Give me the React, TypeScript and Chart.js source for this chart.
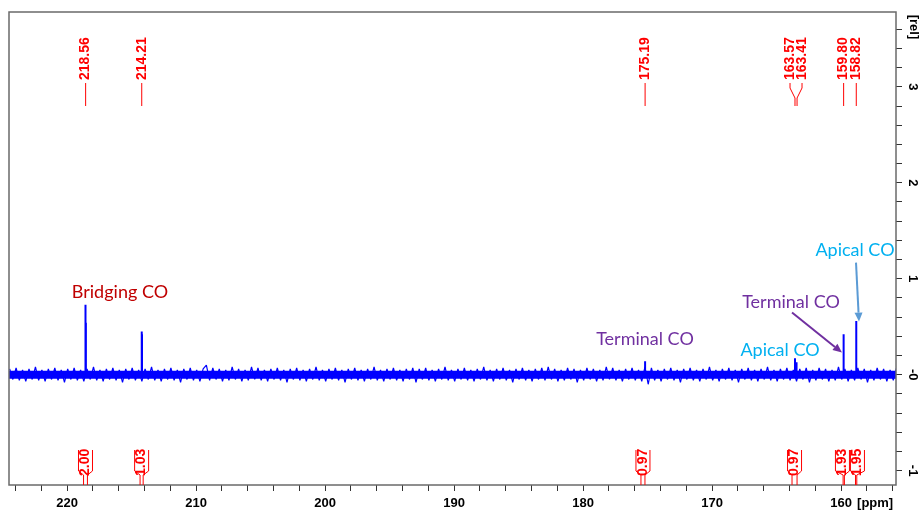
import React, { useEffect, useRef } from "react";
import { Chart, registerables } from "chart.js";
Chart.register(...registerables);

// ---- data ----
const ppmRange = [155.74, 224.5];
const relRange = [-1.15, 3.78];
const xTickLabels = [220, 210, 200, 190, 180, 170, 160];
const yTickValues = [-1, 0, 1, 2, 3];
const yTickLabels = ["-1", "-0", "1", "2", "3"];

const peakPpm = [218.57, 218.54, 214.21, 214.19, 175.19, 163.57, 163.45, 159.8, 158.82];
const peakHeight = [0.73, 0.54, 0.45, 0.42, 0.14, 0.17, 0.13, 0.42, 0.56];

const peakLabels = ["218.56", "214.21", "175.19", "163.57", "163.41", "159.80", "158.82"];

const integralFrom = [218.72, 214.34, 175.51, 163.8, 159.84, 158.88];
const integralTo = [218.42, 214.1, 175.2, 163.41, 159.74, 158.78];
const integralValues = ["2.00", "1.03", "0.97", "0.97", "1.93", "1.95"];

const noiseStartPpm = 224.45;
const noiseStepPpm = 0.25;
const noiseValues = [
  0.06, -0.05, 0.07, -0.06, 0.05, -0.07, 0.06, -0.05, 0.08, -0.06,
  0.05, -0.07, 0.06, -0.05, 0.07, -0.06, 0.05, -0.08, 0.06, -0.05,
  0.07, -0.06, 0.05, -0.07, 0.06, -0.05, 0.08, -0.06, 0.05, -0.07,
  0.06, -0.05, 0.07, -0.06, 0.05, -0.08, 0.06, -0.05, 0.07, -0.06,
  0.05, -0.07, 0.06, -0.05, 0.08, -0.06, 0.05, -0.07, 0.06, -0.05,
  0.07, -0.06, 0.05, -0.08, 0.06, -0.05, 0.07, -0.06, 0.05, -0.07,
  0.06, 0.1, -0.06, 0.07, -0.05, 0.06, -0.07, 0.05, -0.06, 0.08,
  -0.05, 0.06, -0.07, 0.05, -0.06, 0.08, -0.05, 0.07, -0.06, 0.05,
  -0.07, 0.06, -0.05, 0.07, -0.06, 0.05, -0.08, 0.06, -0.05, 0.07,
  -0.06, 0.05, -0.07, 0.06, -0.05, 0.08, -0.06, 0.05, -0.07, 0.06,
  -0.05, 0.07, -0.06, 0.05, -0.08, 0.06, -0.05, 0.07, -0.06, 0.05,
  -0.07, 0.06, -0.05, 0.08, -0.06, 0.05, -0.07, 0.06, -0.05, 0.07,
  -0.06, 0.05, -0.07, 0.06, -0.05, 0.07, -0.08, 0.06, -0.05, 0.07,
  -0.06, 0.05, -0.07, 0.06, -0.05, 0.08, -0.06, 0.05, -0.07, 0.06,
  -0.05, 0.07, -0.06, 0.05, -0.07, 0.06, -0.05, 0.08, -0.06, 0.05,
  -0.07, 0.06, -0.05, 0.07, -0.06, 0.05, -0.08, 0.06, -0.05, 0.07,
  -0.06, 0.05, -0.07, 0.06, -0.05, 0.07, -0.06, 0.08, -0.05, 0.06,
  -0.07, 0.05, -0.06, 0.07, -0.05, 0.06, -0.08, 0.05, -0.06, 0.07,
  -0.05, 0.06, -0.07, 0.05, -0.06, 0.08, -0.05, 0.07, -0.06, 0.05,
  -0.07, 0.06, -0.05, 0.07, -0.06, 0.05, -0.07, 0.08, -0.1, 0.07,
  -0.06, 0.05, -0.07, 0.06, -0.05, 0.07, -0.06, 0.05, -0.08, 0.06,
  -0.05, 0.07, -0.06, 0.05, -0.07, 0.06, -0.05, 0.08, -0.06, 0.05,
  -0.07, 0.06, -0.05, 0.07, -0.06, 0.05, -0.08, 0.06, -0.05, 0.07,
  -0.06, 0.05, -0.07, 0.06, -0.05, 0.08, -0.06, 0.05, -0.07, 0.06,
  -0.05, 0.07, -0.06, 0.05, -0.07, 0.06, -0.05, 0.07, -0.08, 0.05,
  -0.06, 0.07, -0.05, 0.06, -0.07, 0.05, -0.06, 0.08, -0.05, 0.06,
  -0.07, 0.05, -0.06, 0.07, -0.05, 0.06, -0.08, 0.05, -0.06, 0.07,
  -0.05, 0.06, -0.07, 0.05, -0.06, 0.07, -0.05, 0.06, -0.07, 0.05,
];

// ---- annotation config ----
const annotations = [
  { text: "Bridging CO", ppm: 215.9, rel: 0.86, color: "#C00000" },
  { text: "Terminal CO", ppm: 175.2, rel: 0.365, color: "#7030A0" },
  { text: "Terminal CO", ppm: 163.88, rel: 0.76, color: "#7030A0" },
  { text: "Apical CO", ppm: 164.73, rel: 0.26, color: "#00B0F0" },
  { text: "Apical CO", ppm: 158.92, rel: 1.3, color: "#00B0F0" },
];
const arrows = [
  { from: [163.8, 0.647], to: [159.93, 0.23], color: "#7030A0" },
  { from: [158.84, 1.168], to: [158.61, 0.553], color: "#5B9BD5" },
];

function spread(xs: number[], gap: number): number[] {
  const idx = xs.map((x, i) => i).sort((a, b) => xs[a] - xs[b]);
  let clusters: { members: number[]; center: number }[] = idx.map((i) => ({ members: [i], center: xs[i] }));
  let merged = true;
  while (merged) {
    merged = false;
    for (let k = 1; k < clusters.length; k++) {
      const a = clusters[k - 1], b = clusters[k];
      const aEnd = a.center + ((a.members.length - 1) / 2) * gap;
      const bStart = b.center - ((b.members.length - 1) / 2) * gap;
      if (bStart - aEnd < gap) {
        const members = a.members.concat(b.members);
        const center = members.reduce((s, m) => s + xs[m], 0) / members.length;
        clusters.splice(k - 1, 2, { members, center });
        merged = true;
        break;
      }
    }
  }
  const out = new Array(xs.length).fill(0);
  clusters.forEach((c) => {
    c.members.forEach((m, j) => {
      out[m] = c.center - ((c.members.length - 1) / 2) * gap + j * gap;
    });
  });
  return out;
}

const LABEL_FONT = "bold 14px 'Liberation Sans', Arial, sans-serif";

const overlay = {
  id: "nmrOverlay",
  afterDraw(chart: any) {
    const ctx = chart.ctx as CanvasRenderingContext2D;
    const xs = chart.scales.x;
    const ys = chart.scales.y;
    const area = chart.chartArea;
    ctx.save();

    // frame
    ctx.strokeStyle = "#6a6a6a";
    ctx.lineWidth = 1.5;
    ctx.strokeRect(area.left, area.top, area.right - area.left, area.bottom - area.top);

    // y tick labels (rotated)
    ctx.fillStyle = "#000";
    ctx.font = "bold 13px 'Liberation Sans', Arial, sans-serif";
    ctx.textAlign = "center";
    ctx.textBaseline = "middle";
    yTickValues.forEach((v, i) => {
      const y = ys.getPixelForValue(v);
      ctx.save();
      ctx.translate(area.right + 17, y);
      ctx.rotate(Math.PI / 2);
      ctx.fillText(yTickLabels[i], 0, 0);
      ctx.restore();
    });
    ctx.save();
    ctx.translate(area.right + 18, area.top + 15);
    ctx.rotate(Math.PI / 2);
    ctx.fillText("[rel]", 0, 0);
    ctx.restore();

    // x unit
    ctx.textAlign = "left";
    ctx.fillText("[ppm]", xs.getPixelForValue(160) + 16, area.bottom + 18);

    // peak labels at top
    ctx.strokeStyle = "#FF0000";
    ctx.fillStyle = "#FF0000";
    ctx.lineWidth = 1;
    ctx.font = LABEL_FONT;
    const peakPx = peakLabels.map((l) => xs.getPixelForValue(parseFloat(l)));
    const labelPx = spread(peakPx, 12);
    const tTextBottom = area.top + 68;
    peakLabels.forEach((l, i) => {
      const lx = labelPx[i];
      const px = peakPx[i];
      ctx.save();
      ctx.translate(lx, tTextBottom);
      ctx.rotate(-Math.PI / 2);
      ctx.textAlign = "left";
      ctx.textBaseline = "middle";
      ctx.fillText(l, 0, 0);
      ctx.restore();
      ctx.beginPath();
      if (Math.abs(lx - px) < 0.5) {
        ctx.moveTo(px, area.top + 71);
        ctx.lineTo(px, area.top + 94);
      } else {
        ctx.moveTo(lx, area.top + 71);
        ctx.lineTo(lx, area.top + 76);
        ctx.lineTo(px, area.top + 86);
        ctx.lineTo(px, area.top + 94);
      }
      ctx.stroke();
    });

    // integrals at bottom
    const intCenters = integralFrom.map((f, i) => (xs.getPixelForValue(f) + xs.getPixelForValue(integralTo[i])) / 2);
    const boxPx = spread(intCenters, 15);
    const b = area.bottom;
    integralValues.forEach((v, i) => {
      const c = boxPx[i];
      const sL = xs.getPixelForValue(integralFrom[i]);
      const sR = xs.getPixelForValue(integralTo[i]);
      ctx.beginPath();
      ctx.moveTo(c - 7, b - 35);
      ctx.lineTo(c - 7, b - 14);
      ctx.lineTo(sL, b - 10);
      ctx.lineTo(sL, b);
      ctx.moveTo(c + 7, b - 35);
      ctx.lineTo(c + 7, b - 14);
      ctx.lineTo(sR, b - 10);
      ctx.lineTo(sR, b);
      ctx.stroke();
      ctx.save();
      ctx.translate(c, b - 9);
      ctx.rotate(-Math.PI / 2);
      ctx.textAlign = "left";
      ctx.textBaseline = "middle";
      ctx.fillText(v, 0, 0);
      ctx.restore();
    });

    // annotations
    ctx.font = "18px Lato, 'Open Sans', sans-serif";
    ctx.textAlign = "center";
    ctx.textBaseline = "middle";
    annotations.forEach((a) => {
      ctx.fillStyle = a.color;
      ctx.fillText(a.text, xs.getPixelForValue(a.ppm), ys.getPixelForValue(a.rel));
    });
    arrows.forEach((a) => {
      const x1 = xs.getPixelForValue(a.from[0]);
      const y1 = ys.getPixelForValue(a.from[1]);
      const x2 = xs.getPixelForValue(a.to[0]);
      const y2 = ys.getPixelForValue(a.to[1]);
      const ang = Math.atan2(y2 - y1, x2 - x1);
      const hl = 9, hw = 4;
      const bx = x2 - hl * Math.cos(ang), by = y2 - hl * Math.sin(ang);
      ctx.strokeStyle = a.color;
      ctx.fillStyle = a.color;
      ctx.lineWidth = 2;
      ctx.beginPath();
      ctx.moveTo(x1, y1);
      ctx.lineTo(bx, by);
      ctx.stroke();
      ctx.beginPath();
      ctx.moveTo(x2, y2);
      ctx.lineTo(bx + hw * Math.sin(ang), by - hw * Math.cos(ang));
      ctx.lineTo(bx - hw * Math.sin(ang), by + hw * Math.cos(ang));
      ctx.closePath();
      ctx.fill();
    });

    ctx.restore();
  },
};

export default function App() {
  const ref = useRef<HTMLCanvasElement | null>(null);
  useEffect(() => {
    document.body.style.margin = "0";
    if (!ref.current) return;
    const noiseData = noiseValues.map((v, i) => ({ x: noiseStartPpm - i * noiseStepPpm, y: v }));
    const spikeData: any[] = [];
    peakPpm.forEach((p, i) => {
      spikeData.push({ x: p, y: 0 });
      spikeData.push({ x: p, y: peakHeight[i] });
      spikeData.push({ x: p, y: null });
    });
    const chart = new Chart(ref.current, {
      type: "line",
      data: {
        datasets: [
          {
            data: [
              { x: ppmRange[1], y: 0 },
              { x: ppmRange[0], y: 0 },
            ],
            borderColor: "#0000FF",
            borderWidth: 8,
            pointRadius: 0,
          },
          {
            data: noiseData,
            borderColor: "#0000FF",
            borderWidth: 1.2,
            borderJoinStyle: "bevel",
            pointRadius: 0,
            tension: 0,
          },
          {
            data: spikeData,
            borderColor: "#0000FF",
            borderWidth: 2,
            pointRadius: 0,
            spanGaps: false,
          },
        ],
      },
      options: {
        animation: false,
        responsive: false,
        layout: { padding: { left: 9, top: 12, right: 0, bottom: 0 } },
        plugins: { legend: { display: false }, tooltip: { enabled: false } },
        scales: {
          x: {
            type: "linear",
            reverse: true,
            min: ppmRange[0],
            max: ppmRange[1],
            position: "bottom",
            ticks: {
              stepSize: 2,
              includeBounds: false,
              autoSkip: false,
              maxRotation: 0,
              padding: 5,
              color: "#000",
              font: { family: "'Liberation Sans', Arial, sans-serif", weight: "bold", size: 13 },
              callback: (v: any) => {
                const r = Math.round(v);
                return Math.abs(v - r) < 1e-6 && xTickLabels.includes(r) ? String(r) : "";
              },
            },
            grid: { drawOnChartArea: false, drawTicks: true, tickLength: 6, color: "#333" },
            border: { display: false },
            afterFit: (s: any) => {
              s.height = 28;
            },
          },
          y: {
            type: "linear",
            position: "right",
            min: relRange[0],
            max: relRange[1],
            ticks: { stepSize: 0.2, includeBounds: false, callback: () => "" },
            grid: { drawOnChartArea: false, drawTicks: true, tickLength: 6, color: "#333" },
            border: { display: false },
            afterFit: (s: any) => {
              s.width = 26;
            },
          },
        },
      },
      plugins: [overlay],
    });
    return () => chart.destroy();
  }, []);
  return (
    <div style={{ width: 922, height: 513, background: "#fff" }}>
      <canvas ref={ref} width={922} height={513} />
    </div>
  );
}
